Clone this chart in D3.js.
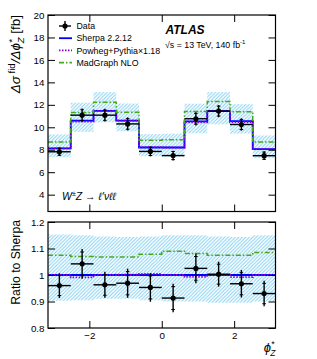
<!DOCTYPE html>
<html>
<head>
<meta charset="utf-8">
<script src="https://cdn.jsdelivr.net/npm/d3@7"></script>
<style>
  body { margin: 0; background: #fff; }
  text { font-family: "Liberation Sans", Arial, sans-serif; }
</style>
</head>
<body>
<svg id="area" width="317" height="359"></svg>
<script>
// bin edges in phi*_Z (10 bins of pi/5)
const binEdges = [-3.1416, -2.5133, -1.8850, -1.2566, -0.6283, 0, 0.6283, 1.2566, 1.8850, 2.5133, 3.1416];

// top panel, fb
const dataVals   = [7.82, 11.08, 11.08, 10.30, 7.85, 7.48, 10.76, 11.44, 10.25, 7.47];
const dataErr    = [0.38, 0.59, 0.56, 0.58, 0.44, 0.44, 0.59, 0.54, 0.55, 0.39];
const dataStat   = [0.31, 0.48, 0.46, 0.47, 0.36, 0.36, 0.48, 0.44, 0.45, 0.32];
const sherpa     = [8.12, 10.60, 11.47, 10.60, 8.20, 8.20, 10.52, 11.47, 10.55, 8.06];
const powheg     = [8.12, 10.50, 11.47, 10.60, 8.23, 8.20, 10.45, 11.47, 10.47, 8.06];
const madgraph   = [8.68, 11.32, 12.24, 11.35, 8.85, 8.90, 11.40, 12.30, 11.38, 8.68];

// ratio panel
const dataRatio    = [0.960, 1.042, 0.963, 0.969, 0.953, 0.913, 1.025, 1.003, 0.967, 0.930];
const dataRatioErr = [0.047, 0.056, 0.049, 0.055, 0.054, 0.054, 0.056, 0.047, 0.052, 0.048];
const powhegRatio  = [1.000, 0.991, 1.000, 1.001, 1.004, 1.000, 0.993, 1.000, 0.992, 1.000];
const mgRatio      = [1.075, 1.070, 1.068, 1.068, 1.078, 1.090, 1.081, 1.075, 1.075, 1.085];
const bandHi       = [1.153, 1.150, 1.145, 1.143, 1.145, 1.150, 1.150, 1.145, 1.143, 1.150];
const bandLo       = [0.903, 0.905, 0.910, 0.910, 0.905, 0.900, 0.900, 0.895, 0.895, 0.900];

const topTicks   = [4, 6, 8, 10, 12, 14, 16, 18, 20];
const ratioTicks = [0.8, 0.9, 1, 1.1, 1.2];
const xTicks     = [-2, 0, 2];

const legendItems = [
  { label: 'Data', kind: 'data' },
  { label: 'Sherpa 2.2.12', kind: 'sherpa' },
  { label: 'Powheg+Pythia\u00d71.18', kind: 'powheg' },
  { label: 'MadGraph NLO', kind: 'mg' },
];

const svg = d3.select('#area');

const x = d3.scaleLinear([-Math.PI, Math.PI], [48, 275.5]);
const yTop = d3.scaleLinear([2.5, 20], [211.5, 15]);
const yRat = d3.scaleLinear([0.8, 1.2], [328, 222]);

const blue = '#0000ff';
const purple = '#8a00e6';
const green = '#48a81c';
const hatchCol = '#7ccdf0';

// hatch pattern
const defs = svg.append('defs');
defs.append('pattern')
  .attr('id', 'hatch')
  .attr('patternUnits', 'userSpaceOnUse')
  .attr('width', 3.5)
  .attr('height', 3.5)
  .append('path')
  .attr('d', 'M-1,1 l2,-2 M0,3.5 l3.5,-3.5 M2.5,4.5 l2,-2')
  .attr('stroke', hatchCol)
  .attr('stroke-width', 0.9);

const bins = d3.range(dataVals.length);

function stepPts(vals) {
  const pts = vals.map((v, i) => [binEdges[i], v]);
  pts.push([binEdges[binEdges.length - 1], vals[vals.length - 1]]);
  return pts;
}

function drawPanel(g, y, opt) {
  // band
  if (opt.bandTop) {
    g.append('g').selectAll('rect')
      .data(bins)
      .join('rect')
      .attr('x', (i) => x(binEdges[i]))
      .attr('width', (i) => x(binEdges[i + 1]) - x(binEdges[i]))
      .attr('y', (i) => y(sherpa[i] * bandHi[i]))
      .attr('height', (i) => y(sherpa[i] * bandLo[i]) - y(sherpa[i] * bandHi[i]))
      .attr('fill', 'url(#hatch)');
  } else {
    const area = d3.area()
      .x((d) => x(d[0]))
      .y0((d) => y(d[1]))
      .y1((d) => y(d[2]))
      .curve(d3.curveStepAfter);
    const pts = bandLo.map((v, i) => [binEdges[i], v, bandHi[i]]);
    pts.push([binEdges[binEdges.length - 1], bandLo[bandLo.length - 1], bandHi[bandHi.length - 1]]);
    g.append('path').attr('d', area(pts)).attr('fill', 'url(#hatch)');
  }

  const line = d3.line().x((d) => x(d[0])).y((d) => y(d[1])).curve(d3.curveStepAfter);

  g.append('path').attr('d', line(stepPts(opt.sherpa)))
    .attr('fill', 'none').attr('stroke', blue).attr('stroke-width', 1.8);
  g.append('path').attr('d', line(stepPts(opt.powheg)))
    .attr('fill', 'none').attr('stroke', purple).attr('stroke-width', 1.8)
    .attr('stroke-dasharray', '1.5,1.5');
  g.append('path').attr('d', line(stepPts(opt.mg)))
    .attr('fill', 'none').attr('stroke', green).attr('stroke-width', 1.5)
    .attr('stroke-dasharray', '5,2,1.5,2');

  // data
  const dg = g.append('g').attr('stroke', '#000');
  dg.selectAll('.xerr').data(bins).join('line')
    .attr('x1', (i) => x(binEdges[i])).attr('x2', (i) => x(binEdges[i + 1]))
    .attr('y1', (i) => y(opt.data[i])).attr('y2', (i) => y(opt.data[i]))
    .attr('stroke-width', 1.4);
  dg.selectAll('.yerr').data(bins).join('line')
    .attr('x1', (i) => x((binEdges[i] + binEdges[i + 1]) / 2))
    .attr('x2', (i) => x((binEdges[i] + binEdges[i + 1]) / 2))
    .attr('y1', (i) => y(opt.data[i] + opt.err[i]))
    .attr('y2', (i) => y(opt.data[i] - opt.err[i]))
    .attr('stroke-width', 1.4);
  [1, -1].forEach((s) => {
    dg.selectAll(null).data(bins).join('line')
      .attr('x1', (i) => x((binEdges[i] + binEdges[i + 1]) / 2) - 1.8)
      .attr('x2', (i) => x((binEdges[i] + binEdges[i + 1]) / 2) + 1.8)
      .attr('y1', (i) => y(opt.data[i] + s * opt.stat[i]))
      .attr('y2', (i) => y(opt.data[i] + s * opt.stat[i]))
      .attr('stroke-width', 1);
  });
  g.append('g').selectAll('circle').data(bins).join('circle')
    .attr('cx', (i) => x((binEdges[i] + binEdges[i + 1]) / 2))
    .attr('cy', (i) => y(opt.data[i]))
    .attr('r', 2.6)
    .attr('fill', '#000');
}

// top panel
const gTop = svg.append('g');
drawPanel(gTop, yTop, {
  bandTop: true,
  sherpa, powheg, mg: madgraph,
  data: dataVals, err: dataErr, stat: dataStat,
});

// ratio panel
const gRat = svg.append('g');
drawPanel(gRat, yRat, {
  bandTop: false,
  sherpa: sherpa.map(() => 1), powheg: powhegRatio, mg: mgRatio,
  data: dataRatio, err: dataRatioErr, stat: dataRatioErr.map((e) => e * 0.8),
});

// axes
function yAxes(y, ticks, minorStep, fmt) {
  const [lo, hi] = y.domain();
  const minors = d3.range(Math.ceil(lo / minorStep - 1e-6), Math.floor(hi / minorStep + 1e-6) + 1)
    .map((k) => k * minorStep);
  const left = svg.append('g').attr('transform', 'translate(48,0)');
  left.call(d3.axisLeft(y).tickValues(minors).tickSize(-3.5).tickFormat(''));
  left.call(d3.axisLeft(y).tickValues(ticks).tickSize(-7).tickPadding(3.5).tickFormat(fmt));
  const right = svg.append('g').attr('transform', 'translate(275.5,0)');
  right.call(d3.axisRight(y).tickValues(minors).tickSize(-3.5).tickFormat(''));
  right.call(d3.axisRight(y).tickValues(ticks).tickSize(-7).tickFormat(''));
}
function xAxes(y0, y1, labels) {
  const minors = d3.range(-6, 7).map((k) => k * 0.5);
  const b = svg.append('g').attr('transform', `translate(0,${y0})`);
  b.call(d3.axisBottom(x).tickValues(minors).tickSize(-3.5).tickFormat(''));
  b.call(d3.axisBottom(x).tickValues(xTicks).tickSize(-7).tickPadding(4)
    .tickFormat(labels ? (d) => (d < 0 ? '\u2212' + Math.abs(d) : d) : ''));
  const t = svg.append('g').attr('transform', `translate(0,${y1})`);
  t.call(d3.axisTop(x).tickValues(minors).tickSize(-3.5).tickFormat(''));
  t.call(d3.axisTop(x).tickValues(xTicks).tickSize(-7).tickFormat(''));
}

yAxes(yTop, topTicks, 0.5, (d) => d);
yAxes(yRat, ratioTicks, 0.02, (d) => d3.format('~g')(d));
xAxes(211.5, 15, false);
xAxes(328, 222, true);

svg.selectAll('.domain').remove();
svg.selectAll('.tick line').attr('stroke', '#000').attr('stroke-width', 1);
svg.selectAll('.tick text').attr('font-size', 9.8).attr('fill', '#000')
  .style('font-family', '"Liberation Sans", Arial, sans-serif');

// frames
[yTop, yRat].forEach((y) => {
  svg.append('rect')
    .attr('x', 48).attr('y', y.range()[1])
    .attr('width', 275.5 - 48).attr('height', y.range()[0] - y.range()[1])
    .attr('fill', 'none').attr('stroke', '#000').attr('stroke-width', 1.2);
});

// legend
const lg = svg.append('g');
legendItems.forEach((d, k) => {
  const ly = 26 + k * 12.2;
  if (d.kind === 'data') {
    lg.append('line').attr('x1', 59).attr('x2', 71).attr('y1', ly).attr('y2', ly)
      .attr('stroke', '#000').attr('stroke-width', 1.4);
    lg.append('line').attr('x1', 65).attr('x2', 65).attr('y1', ly - 5).attr('y2', ly + 5)
      .attr('stroke', '#000').attr('stroke-width', 1.4);
    lg.append('circle').attr('cx', 65).attr('cy', ly).attr('r', 2.6).attr('fill', '#000');
  } else {
    const col = { sherpa: blue, powheg: purple, mg: green }[d.kind];
    const dash = { sherpa: null, powheg: '1.5,1.5', mg: '5,2,1.5,2' }[d.kind];
    lg.append('line').attr('x1', 59).attr('x2', 72).attr('y1', ly).attr('y2', ly)
      .attr('stroke', col).attr('stroke-width', 1.8).attr('stroke-dasharray', dash);
  }
  lg.append('text').attr('x', 76.5).attr('y', ly + 3.2)
    .attr('font-size', 8.8).text(d.label);
});

// ATLAS label
svg.append('text').attr('x', 165.5).attr('y', 33.5)
  .attr('font-size', 12).attr('font-weight', 'bold').attr('font-style', 'italic')
  .text('ATLAS');
const lum = svg.append('text').attr('x', 165).attr('y', 47.5).attr('font-size', 8.8);
lum.append('tspan').text('\u221As = 13 TeV, 140 fb');
lum.append('tspan').attr('dy', -3.5).attr('font-size', 6).text('-1');

// process label
const proc = svg.append('text').attr('x', 62).attr('y', 200).attr('font-size', 10.5)
  .attr('font-style', 'italic');
proc.append('tspan').text('W');
proc.append('tspan').attr('dy', -3.8).attr('font-size', 7).text('\u00b1');
proc.append('tspan').attr('dy', 3.8).text('Z \u2192 \u2113\u2032\u03bd\u2113\u2113');

// y titles
const yt = svg.append('text')
  .attr('transform', 'translate(20,15) rotate(-90)')
  .attr('text-anchor', 'end').attr('font-size', 13.5);
yt.append('tspan').attr('font-style', 'italic').text('\u0394\u03c3');
yt.append('tspan').attr('dy', -5.5).attr('font-size', 9.5).text(' fid');
yt.append('tspan').attr('dy', 5.5).attr('font-style', 'italic').text('/\u0394\u03d5');
yt.append('tspan').attr('dy', -5).attr('font-size', 9.5).attr('font-style', 'italic').text('*');
yt.append('tspan').attr('dx', -4).attr('dy', 8.5).attr('font-size', 9.5).attr('font-style', 'italic').text('Z');
yt.append('tspan').attr('dy', -3.5).text(' [fb]');

svg.append('text')
  .attr('transform', 'translate(20,220) rotate(-90)')
  .attr('text-anchor', 'end').attr('font-size', 12.2)
  .text('Ratio to Sherpa');

// x title
const xt = svg.append('text').attr('x', 275.5).attr('y', 352)
  .attr('text-anchor', 'end').attr('font-size', 13).attr('font-style', 'italic');
xt.append('tspan').text('\u03d5');
xt.append('tspan').attr('dy', -5).attr('font-size', 8.5).text('*');
xt.append('tspan').attr('dx', -4).attr('dy', 8.5).attr('font-size', 8.5).text('Z');
</script>
</body>
</html>
